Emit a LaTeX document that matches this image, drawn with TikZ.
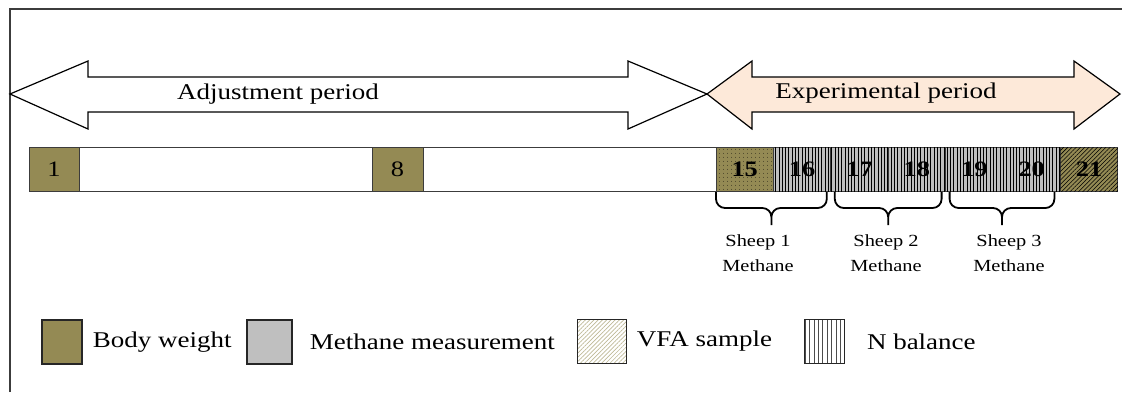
\documentclass[tikz,border=0pt]{standalone}
\usepackage{fontspec}
\setmainfont{Liberation Serif}[FakeStretch=1.2]
\usetikzlibrary{positioning, calc, patterns.meta}
\definecolor{BodyOlive}{RGB}{148,138,84}
\definecolor{MethGray}{RGB}{191,191,191}
\definecolor{ExpPeach}{RGB}{253,233,217}
\definecolor{VfaTan}{RGB}{190,184,150}
\definecolor{EdgeGray}{RGB}{60,60,60}

\begin{document}
\begin{tikzpicture}[
    x=1pt, y=-1pt,
    period_arrow/.style={draw=black, line width=1.2pt, line join=miter},
    period_text/.style={font=\fontsize{22.5}{26}\selectfont},
    day/.style={draw=EdgeGray, line width=1pt, minimum height=44pt, inner sep=0pt, outer sep=0pt, font=\fontsize{22}{24}\selectfont},
    weigh_day/.style={day, fill=BodyOlive},
    blank_days/.style={day, fill=white},
    dot_day/.style={day, fill=BodyOlive, font=\fontsize{22}{24}\selectfont\bfseries, postaction={pattern={Dots[distance=4pt, radius=0.45pt]}}},
    nbal_day/.style={day, fill=MethGray, font=\fontsize{22}{24}\selectfont\bfseries, postaction={pattern={Lines[angle=90, distance=3.3pt, line width=0.6pt]}}},
    vfa_day/.style={day, fill=BodyOlive, font=\fontsize{22}{24}\selectfont\bfseries, postaction={pattern={Lines[angle=45, distance=3pt, line width=0.6pt]}}},
    sheep_brace/.style={line width=1.8pt, rounded corners=9pt, to path={
        let \p1=(\tikztostart), \p2=(\tikztotarget) in
        -- (\x1,\y1-16pt) -- ({(\x1+\x2)/2},\y1-16pt) -- ({(\x1+\x2)/2},\y1-33pt)
        ({(\x1+\x2)/2},\y1-33pt) -- ({(\x1+\x2)/2},\y1-16pt) -- (\x2,\y2-16pt) -- (\tikztotarget)}},
    sheep_text/.style={align=center, font=\fontsize{17}{25}\selectfont},
    key_box/.style={draw=black!85, line width=1.6pt, minimum height=44pt, inner sep=0pt},
    key_text/.style={inner sep=0pt, anchor=west, font=\fontsize{22.5}{26}\selectfont}
]
    \useasboundingbox (0,0) rectangle (1122,392);

    % frame (left and top edges only)
    \draw[EdgeGray, line width=1.4pt] (10,392) -- (10,9) -- (1122,9);

    % periods
    \draw[period_arrow, fill=white] (10,94) -- (88,61) -- (88,77) -- (628,77) -- (628,61) -- (707,94)
        -- (628,129) -- (628,112) -- (88,112) -- (88,129) -- cycle;
    \draw[period_arrow, fill=ExpPeach] (707,94) -- (752,61) -- (752,77) -- (1074,77) -- (1074,61) -- (1120,94)
        -- (1074,129) -- (1074,112) -- (752,112) -- (752,129) -- cycle;
    \node[period_text] (adj) at (278,94) {Adjustment period};
    \node[period_text] (exp) at (886,93) {Experimental period};

    % days
    \node[weigh_day, minimum width=50pt, anchor=north west] (c1) at (29,147) {1};
    \node[blank_days, minimum width=293pt, right=0pt of c1] (gapA) {};
    \node[weigh_day, minimum width=51pt, right=0pt of gapA] (c8) {8};
    \node[blank_days, minimum width=293pt, right=0pt of c8] (gapB) {};
    \node[dot_day, minimum width=57.4pt, right=0pt of gapB] (c15) {15};
    \node[nbal_day, minimum width=57.4pt, right=0pt of c15] (c16) {16};
    \node[nbal_day, minimum width=57.4pt, right=0pt of c16] (c17) {17};
    \node[nbal_day, minimum width=57.4pt, right=0pt of c17] (c18) {18};
    \node[nbal_day, minimum width=57.4pt, right=0pt of c18] (c19) {19};
    \node[nbal_day, minimum width=57.4pt, right=0pt of c19] (c20) {20};
    \node[vfa_day, minimum width=57.4pt, right=0pt of c20] (c21) {21};

    % methane chambers
    \draw[sheep_brace] ([yshift=-1pt]c15.south west) to ([xshift=-4pt, yshift=-1pt]c16.south east);
    \draw[sheep_brace] ([xshift=4pt, yshift=-1pt]c17.south west) to ([xshift=-4pt, yshift=-1pt]c18.south east);
    \draw[sheep_brace] ([xshift=4pt, yshift=-1pt]c19.south west) to ([xshift=-6pt, yshift=-1pt]c20.south east);
    \node[sheep_text] (s1) at (758,253) {Sheep 1\\Methane};
    \node[sheep_text] (s2) at (886,253) {Sheep 2\\Methane};
    \node[sheep_text] (s3) at (1009,253) {Sheep 3\\Methane};

    % legend
    \node[key_box, minimum width=40pt, fill=BodyOlive, anchor=north west] (key1) at (41,319) {};
    \node[key_text, right=10pt of key1] (lab1) {Body weight};
    \node[key_box, minimum width=45pt, fill=MethGray, anchor=north west] (key2) at (246,319) {};
    \node[key_text, right=17pt of key2] (lab2) {Methane measurement};
    \node[key_box, minimum width=49pt, anchor=north west,
          pattern={Lines[angle=45, distance=3pt, line width=0.7pt]}, pattern color=VfaTan] (key3) at (577,319) {};
    \node[key_text, right=10pt of key3] (lab3) {VFA sample};
    \node[key_box, minimum width=40pt, anchor=north west,
          pattern={Lines[angle=90, distance=4.4pt, line width=0.8pt]}, pattern color=black!70] (key4) at (804,319) {};
    \node[key_text, right=22pt of key4] (lab4) {N balance};

\end{tikzpicture}
\end{document}
